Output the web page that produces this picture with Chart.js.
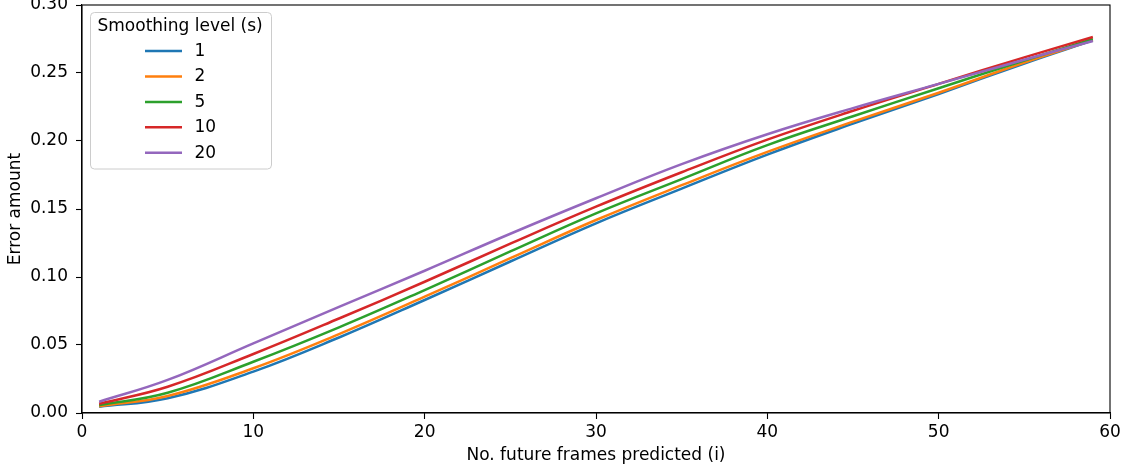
<!DOCTYPE html>
<html>
<head>
<meta charset="utf-8">
<script src="https://cdn.jsdelivr.net/npm/chart.js@4"></script>
<style>
  html, body { margin: 0; padding: 0; background: #fff; }
  #wrap { width: 1139px; height: 474px; }
</style>
</head>
<body>
<div id="wrap"><canvas id="c" width="1139" height="474"></canvas></div>
<script>
// Frames predicted (x positions where values were read)
const frames = [1, 5, 10, 15, 20, 25, 30, 35, 40, 45, 50, 55, 59];
// Smoothing levels
const smoothingLevels = ['1', '2', '5', '10', '20'];
// Error amount per smoothing level
const errS1  = [0.0046, 0.0108, 0.0304, 0.0555, 0.0831, 0.1114, 0.1395, 0.1650, 0.1900, 0.2128, 0.2346, 0.2570, 0.2740];
const errS2  = [0.0050, 0.0125, 0.0329, 0.0580, 0.0855, 0.1138, 0.1419, 0.1675, 0.1920, 0.2142, 0.2355, 0.2577, 0.2742];
const errS5  = [0.0058, 0.0149, 0.0377, 0.0630, 0.0904, 0.1188, 0.1468, 0.1720, 0.1970, 0.2182, 0.2388, 0.2592, 0.2750];
const errS10 = [0.0068, 0.0193, 0.0434, 0.0695, 0.0965, 0.1245, 0.1517, 0.1770, 0.2010, 0.2222, 0.2420, 0.2615, 0.2765];
const errS20 = [0.0083, 0.0243, 0.0512, 0.0780, 0.1046, 0.1318, 0.1579, 0.1830, 0.2050, 0.2242, 0.2420, 0.2598, 0.2735];
const seriesValues = [errS1, errS2, errS5, errS10, errS20];
const colors = ['#1f77b4', '#ff7f0e', '#2ca02c', '#d62728', '#9467bd'];
const yTicks = [0, 0.05, 0.10, 0.15, 0.20, 0.25, 0.30];
const xTicks = [0, 10, 20, 30, 40, 50, 60];

const FONT = 'DejaVu Sans';
const FS = 17;

const datasets = seriesValues.map((vals, i) => ({
  label: smoothingLevels[i],
  data: frames.map((f, j) => ({ x: f, y: vals[j] })),
  borderColor: colors[i],
  backgroundColor: colors[i],
  borderWidth: 2.5,
  pointRadius: 0,
  fill: false,
  tension: 0.4,
  order: seriesValues.length - i
}));

const framePlugin = {
  id: 'frameBox',
  afterDraw(chart) {
    const { ctx, chartArea: a } = chart;
    ctx.save();
    ctx.strokeStyle = '#000';
    ctx.lineWidth = 1.1;
    ctx.strokeRect(a.left, a.top, a.right - a.left, a.bottom - a.top);
    ctx.restore();
  }
};

const legendPlugin = {
  id: 'mplLegend',
  afterDraw(chart) {
    const ctx = chart.ctx;
    const x0 = 90.5, y0 = 12.5, w = 181, h = 156.5, r = 4;
    ctx.save();
    ctx.fillStyle = 'rgba(255,255,255,0.8)';
    ctx.strokeStyle = '#cccccc';
    ctx.lineWidth = 1;
    ctx.beginPath();
    ctx.moveTo(x0 + r, y0);
    ctx.lineTo(x0 + w - r, y0);
    ctx.arcTo(x0 + w, y0, x0 + w, y0 + r, r);
    ctx.lineTo(x0 + w, y0 + h - r);
    ctx.arcTo(x0 + w, y0 + h, x0 + w - r, y0 + h, r);
    ctx.lineTo(x0 + r, y0 + h);
    ctx.arcTo(x0, y0 + h, x0, y0 + h - r, r);
    ctx.lineTo(x0, y0 + r);
    ctx.arcTo(x0, y0, x0 + r, y0, r);
    ctx.closePath();
    ctx.fill();
    ctx.stroke();

    ctx.fillStyle = '#000';
    ctx.font = FS + 'px "' + FONT + '"';
    ctx.textBaseline = 'middle';
    ctx.textAlign = 'left';
    ctx.fillText('Smoothing level (s)', 97.5, 27);

    const rows = [51, 76.5, 102, 127.3, 152.7];
    smoothingLevels.forEach((lab, i) => {
      ctx.strokeStyle = colors[i];
      ctx.lineWidth = 2.5;
      ctx.beginPath();
      ctx.moveTo(145, rows[i]);
      ctx.lineTo(182, rows[i]);
      ctx.stroke();
      ctx.fillStyle = '#000';
      ctx.fillText(lab, 194.5, rows[i] + 0.5);
    });
    ctx.restore();
  }
};

new Chart(document.getElementById('c'), {
  type: 'line',
  data: { datasets },
  options: {
    responsive: false,
    animation: false,
    devicePixelRatio: 1,
    layout: { padding: { top: 5, right: 29, left: 0, bottom: 0 } },
    plugins: { legend: { display: false }, tooltip: { enabled: false } },
    scales: {
      x: {
        type: 'linear',
        min: 0, max: 60,
        afterBuildTicks(scale) { scale.ticks = xTicks.map(v => ({ value: v })); },
        afterFit(scale) { scale.height = 61; scale.paddingLeft = 0; scale.paddingRight = 0; },
        grid: { display: true, drawOnChartArea: false, drawTicks: true, tickLength: 6, tickColor: '#000', tickWidth: 1.1 },
        border: { display: true, color: '#000', width: 1.1 },
        ticks: { color: '#000', font: { family: FONT, size: FS }, padding: 3, maxRotation: 0 },
        title: { display: true, text: 'No. future frames predicted (i)', color: '#000',
                 font: { family: FONT, size: FS }, padding: { top: 0, bottom: 8 } }
      },
      y: {
        type: 'linear',
        min: 0, max: 0.3,
        afterBuildTicks(scale) { scale.ticks = yTicks.map(v => ({ value: v })); },
        afterFit(scale) { scale.width = 82; scale.paddingTop = 0; scale.paddingBottom = 0; },
        grid: { display: true, drawOnChartArea: false, drawTicks: true, tickLength: 6, tickColor: '#000', tickWidth: 1.1 },
        border: { display: true, color: '#000', width: 1.1 },
        ticks: { color: '#000', font: { family: FONT, size: FS }, padding: 8,
                 callback: v => Number(v).toFixed(2) },
        title: { display: true, text: 'Error amount', color: '#000',
                 font: { family: FONT, size: FS }, padding: { top: 5, bottom: 0 } }
      }
    }
  },
  plugins: [framePlugin, legendPlugin]
});
</script>
</body>
</html>
